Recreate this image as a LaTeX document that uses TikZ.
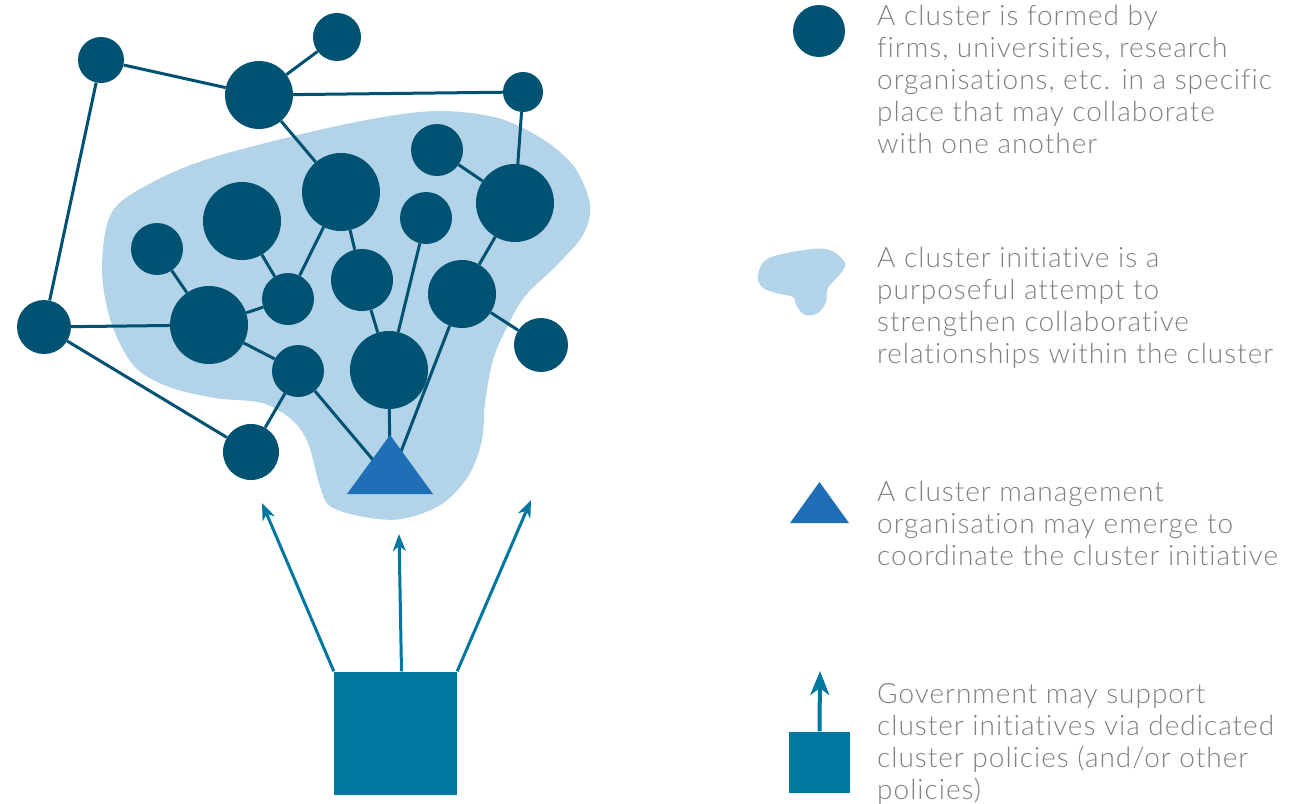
\documentclass[tikz,border=0pt]{standalone}
\usepackage{fontspec}
\newfontfamily\legendfont{Lato Light}[Ligatures={NoCommon,NoContextual}, LetterSpace=3.5]
\usepackage{tikz}
\usetikzlibrary{arrows.meta}
\definecolor{firmblue}{RGB}{0,82,115}
\definecolor{cipale}{RGB}{179,212,232}
\definecolor{cmoblue}{RGB}{31,111,182}
\definecolor{govblue}{RGB}{0,119,160}
\definecolor{legendgray}{RGB}{128,128,128}
\begin{document}
\begin{tikzpicture}[x=1pt, y=-1pt, >={Stealth[length=17pt,width=13pt,inset=5pt]},
  firm/.style={circle, fill=firmblue, inner sep=0pt, minimum size=#1},
  link/.style={draw=firmblue, line width=3pt},
  gov/.style={fill=govblue, inner sep=0pt, minimum width=#1, minimum height=#1},
  support/.style={->, draw=govblue, line width=3pt},
  legend/.style={anchor=base west, inner sep=0pt, align=left, text=legendgray,
    font=\legendfont\fontsize{28}{32}\selectfont},]
\useasboundingbox (0,0) rectangle (1306,803);
% cluster initiative
\fill[cipale] plot[smooth cycle, tension=0.55] coordinates {(153,182) (211,158) (306,133) (383,117)
  (441,111) (498,118) (544,140) (575,168) (590,205) (583,235) (556,266) (526,295) (508,325)
  (493,360) (485,403) (482,440) (469,475) (442,504) (402,519) (364,517) (330,506) (319,483)
  (308,443) (292,420) (262,403) (215,398) (169,387) (134,366) (111,322) (102,268) (112,212)};
% firms
\node[firm=46] (1) at (101,60) {};
\node[firm=48] (2) at (337,37) {};
\node[firm=68] (3) at (259,95) {};
\node[firm=40] (4) at (523,92) {};
\node[firm=52] (5) at (437,150) {};
\node[firm=78] (6) at (341,192) {};
\node[firm=78] (7) at (515,203) {};
\node[firm=78] (8) at (242,221) {};
\node[firm=52] (9) at (426,218) {};
\node[firm=52] (10) at (157,249) {};
\node[firm=52] (11) at (288,299) {};
\node[firm=62] (12) at (362,280) {};
\node[firm=68] (13) at (462,294) {};
\node[firm=54] (14) at (44,327) {};
\node[firm=78] (15) at (209,325) {};
\node[firm=54] (16) at (541,345) {};
\node[firm=52] (17) at (298,371) {};
\node[firm=78] (18) at (389,370) {};
\node[firm=56] (19) at (251,452) {};
\coordinate (cmo) at (390,480);
\draw[link] (1)--(3);
\draw[link] (1)--(14);
\draw[link] (3)--(2);
\draw[link] (3)--(4);
\draw[link] (3)--(6);
\draw[link] (4)--(7);
\draw[link] (5)--(7);
\draw[link] (7)--(13);
\draw[link] (13)--(16);
\draw[link] (6)--(11);
\draw[link] (6)--(12);
\draw[link] (8)--(11);
\draw[link] (10)--(15);
\draw[link] (15)--(11);
\draw[link] (14)--(15);
\draw[link] (14)--(19);
\draw[link] (15)--(17);
\draw[link] (17)--(19);
\draw[link] (12)--(18);
\draw[link] (9)--(18);
\draw[link] (13)--(cmo);
\draw[link] (17)--(cmo);
\draw[link] (18)--(cmo);
% cluster management organisation
\fill[cmoblue] (347,494)--(390,435)--(433,494)--cycle;
% government
\node[gov=123] (g) at (395.5,733) {};
\coordinate (a1) at (262,503);
\coordinate (a2) at (399,534);
\coordinate (a3) at (531,500);
\draw[support] (g.north west)--(a1);
\draw[support] ([xshift=6pt]g.north)--(a2);
\draw[support] (g.north east)--(a3);
% legend
\node[firm=52] (k1) at (819,31) {};
\fill[cipale] plot[smooth cycle, tension=0.6] coordinates {(758,275) (769,258) (812,249) (832,251)
  (845,263) (841,273) (828,288) (826,302) (818,313) (805,315) (796,305) (793,297) (776,293) (762,287)};
\fill[cmoblue] (790,523)--(819.5,482)--(849,523)--cycle;
\node[gov=61] (k4) at (819.5,762) {};
\coordinate (k4tip) at (820,671);
\draw[support, line width=4pt, >={Stealth[length=24pt,width=19pt,inset=7pt]}] (k4.north)--(k4tip);
\node[legend] (t1) at (877,153) {A cluster is formed by\\firms, universities, research\\organisations, etc. in a specific\\place that may collaborate\\with one another};
\node[legend] (t2) at (877,363) {A cluster initiative is a\\purposeful attempt to\\strengthen collaborative\\relationships within the cluster};
\node[legend] (t3) at (877,565) {A cluster management\\organisation may emerge to\\coordinate the cluster initiative};
\node[legend] (t4) at (877,799) {Government may support\\cluster initiatives via dedicated\\cluster policies (and/or other\\policies)};
\end{tikzpicture}
\end{document}
